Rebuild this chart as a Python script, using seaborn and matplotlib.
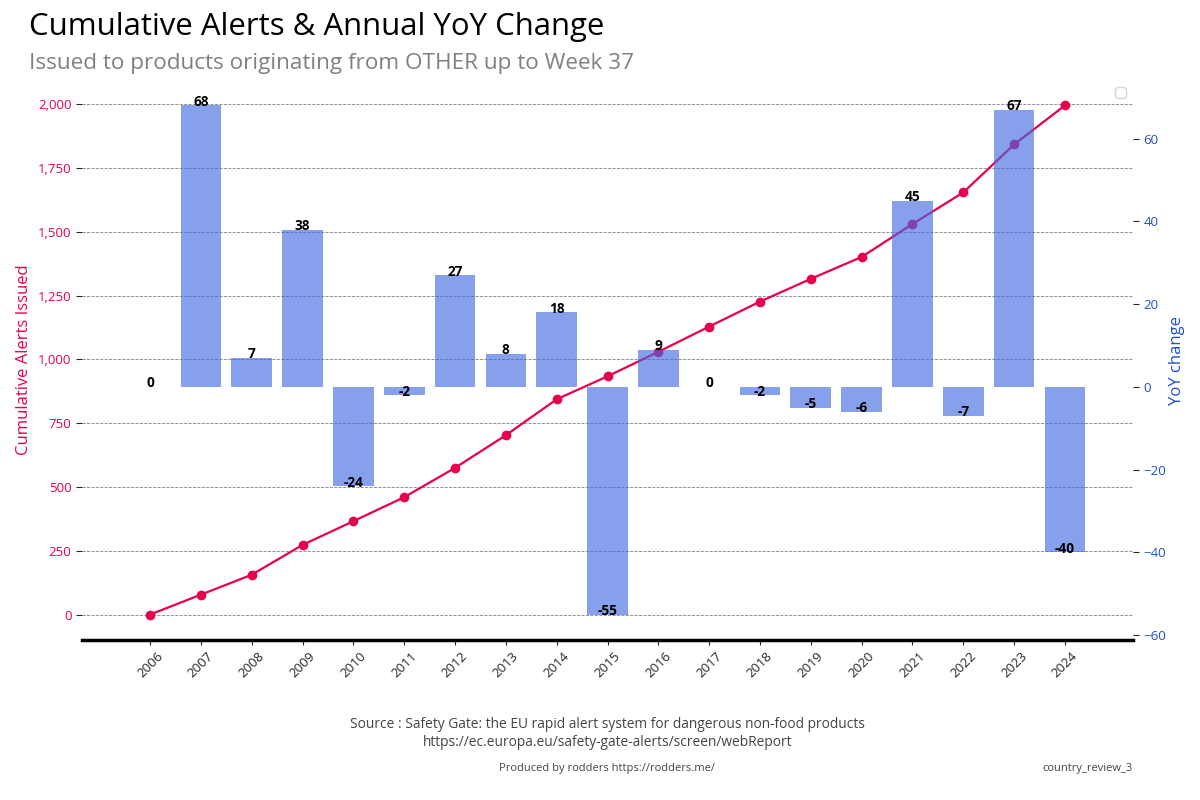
import seaborn as sns
import matplotlib.pyplot as plt
import matplotlib.ticker as mticker
import numpy as np

years = [2006, 2007, 2008, 2009, 2010, 2011, 2012, 2013, 2014, 2015,
         2016, 2017, 2018, 2019, 2020, 2021, 2022, 2023, 2024]
cumulative = [0, 78, 156, 273, 366, 460, 575, 703, 844, 934,
              1030, 1129, 1227, 1316, 1402, 1531, 1655, 1843, 1996]
yoy_change = [0, 68, 7, 38, -24, -2, 27, 8, 18, -55,
              9, 0, -2, -5, -6, 45, -7, 67, -40]

line_color = "#e8004c"
bar_color = "#4169e1"
right_color = "#1f4fd1"

sns.set_style("ticks")
plt.rcParams["font.family"] = ["Open Sans", "DejaVu Sans"]

fig = plt.figure(figsize=(12, 8), dpi=100)
ax1 = fig.add_axes([0.0683, 0.2, 0.8759, 0.7])
ax2 = ax1.twinx()

# cumulative line (left axis)
sns.lineplot(x=years, y=cumulative, ax=ax1, color=line_color, marker="o",
             markersize=7, markeredgewidth=0, linewidth=1.6)

# yoy bars (right axis), drawn on top
sns.barplot(x=years, y=yoy_change, ax=ax2, native_scale=True, color=bar_color,
            alpha=0.63, saturation=1, width=0.8, errorbar=None, linewidth=0)

for x, v in zip(years, yoy_change):
    ax2.annotate(str(v), (x, v), xytext=(0, -2.5), textcoords="offset points",
                 ha="center", va="bottom", fontsize=9.8,
                 fontweight="bold", color="black")

ax1.set_xlim(years[0] - 1.34, years[-1] + 1.34)
ax1.set_xticks(years)
ax1.set_xticklabels([str(y) for y in years], rotation=45, fontsize=9.5)

ax1.set_yticks(np.arange(0, 2001, 250))
ax1.yaxis.set_major_formatter(mticker.StrMethodFormatter("{x:,.0f}"))
ax1.tick_params(axis="y", labelcolor=line_color, labelsize=9.5, length=4)
ax1.set_ylabel("Cumulative Alerts Issued", color=line_color, fontsize=12)
ax1.set_xlabel("")
ax1.grid(axis="y", linestyle="--", color="gray", linewidth=0.6)

ax2.set_yticks(np.arange(-60, 61, 20))
ax2.tick_params(axis="y", labelcolor=right_color, labelsize=9.5, length=4)
ax2.set_ylabel("YoY change", color=right_color, fontsize=12, labelpad=2)

for s in ["top", "left", "right"]:
    ax1.spines[s].set_visible(False)
ax1.spines["bottom"].set_linewidth(2.5)
ax1.spines["bottom"].set_color("black")
for s in ax2.spines.values():
    s.set_visible(False)

ax2.legend(loc="upper right")

fig.text(0.024, 0.966, "Cumulative Alerts & Annual YoY Change", fontsize=22.4,
         ha="left", va="center", color="black")
fig.text(0.024, 0.921, "Issued to products originating from OTHER up to Week 37",
         fontsize=16.2, ha="left", va="center", color="gray")

fig.text(0.506, 0.083, "Source : Safety Gate: the EU rapid alert system for dangerous non-food products\n"
         "https://ec.europa.eu/safety-gate-alerts/screen/webReport",
         fontsize=9.9, ha="center", va="center", color="#444444", linespacing=1.2)
fig.text(0.506, 0.040, "Produced by rodders https://rodders.me/", fontsize=8,
         ha="center", va="center", color="#444444")
fig.text(0.944, 0.040, "country_review_3", fontsize=8, ha="right",
         va="center", color="#444444")

fig.savefig("out.png", dpi=100)
